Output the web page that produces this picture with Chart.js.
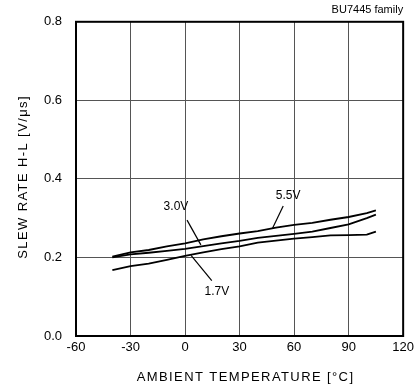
<!DOCTYPE html>
<html><head><meta charset="utf-8">
<script src="https://cdn.jsdelivr.net/npm/chart.js@4.4.0/dist/chart.umd.min.js"></script>
<style>html,body{margin:0;padding:0;background:#fff}#wrap{width:418px;height:385px}</style>
</head><body><div id="wrap"><canvas id="c" width="418" height="385"></canvas></div>
<script>
const temps = [-40,-30,-20,-10,0,10,20,30,40,50,60,70,80,90,100,105];
const v55 = [0.202,0.213,0.219,0.228,0.236,0.246,0.254,0.261,0.267,0.276,0.283,0.288,0.296,0.303,0.313,0.320];
const v30 = [0.200,0.208,0.212,0.217,0.222,0.229,0.236,0.242,0.250,0.255,0.260,0.266,0.275,0.284,0.300,0.309];
const v17 = [0.168,0.178,0.184,0.194,0.204,0.213,0.221,0.228,0.238,0.243,0.248,0.252,0.256,0.257,0.258,0.266];
const xTicks = [-60,-30,0,30,60,90,120];
const yTicks = [0.0,0.2,0.4,0.6,0.8];
const seriesNames = ['5.5V','3.0V','1.7V'];
const xTitle = 'AMBIENT TEMPERATURE [°C]';
const yTitle = 'SLEW RATE H-L [V/μs]';
const chartNote = 'BU7445 family';

const labelDefs = [
  {text:'3.0V', at:[-5,0.328], from:[1.1,0.295], to:[8.7,0.232]},
  {text:'5.5V', at:[56.7,0.358], from:[54,0.331], to:[48,0.273]},
  {text:'1.7V', at:[17.5,0.114], from:[14.7,0.141], to:[3.3,0.205]}
];
const FONT = '"Liberation Sans", Arial, sans-serif';

function pts(vals){ return temps.map((t,i)=>({x:t,y:vals[i]})); }

const annot = {
  id:'annot',
  afterDatasetsDraw(chart){
    const {ctx, chartArea:a, scales:{x,y}} = chart;
    ctx.save();
    ctx.strokeStyle='#000'; ctx.lineWidth=2;
    ctx.strokeRect(a.left, a.top, a.right-a.left, a.bottom-a.top);
    ctx.lineWidth=1.2;
    ctx.font='12px '+FONT; ctx.fillStyle='#000';
    ctx.textAlign='center'; ctx.textBaseline='middle';
    labelDefs.forEach(l=>{
      ctx.beginPath();
      ctx.moveTo(x.getPixelForValue(l.from[0]), y.getPixelForValue(l.from[1]));
      ctx.lineTo(x.getPixelForValue(l.to[0]), y.getPixelForValue(l.to[1]));
      ctx.stroke();
      ctx.fillText(l.text, x.getPixelForValue(l.at[0]), y.getPixelForValue(l.at[1]));
    });
    ctx.textAlign='right'; ctx.textBaseline='middle'; ctx.font='11px '+FONT;
    ctx.fillText(chartNote, a.right, 10);
    // axis titles
    ctx.font='13px '+FONT;
    ctx.letterSpacing='1.4px';
    ctx.textAlign='center'; ctx.textBaseline='middle';
    ctx.fillText(xTitle, (a.left+a.right)/2+6, 377);
    ctx.translate(23, (a.top+a.bottom)/2-2);
    ctx.rotate(-Math.PI/2);
    ctx.fillText(yTitle, 0, 0);
    ctx.restore();
  }
};

new Chart(document.getElementById('c'), {
  type:'line',
  data:{datasets:[
    {label:seriesNames[0], data:pts(v55)},
    {label:seriesNames[1], data:pts(v30)},
    {label:seriesNames[2], data:pts(v17)}
  ].map(d=>Object.assign(d,{borderColor:'#000',borderWidth:1.8,pointRadius:0,tension:0,fill:false}))},
  options:{
    responsive:false, animation:false,
    layout:{padding:{left:0,right:0,top:19,bottom:0}},
    plugins:{legend:{display:false},tooltip:{enabled:false}},
    scales:{
      x:{type:'linear',min:-60,max:120,
        afterBuildTicks(s){s.ticks=xTicks.map(v=>({value:v}));},
        afterFit(s){s.height=49;},
        grid:{color:'#555',lineWidth:1,drawTicks:false},
        border:{display:false},
        ticks:{color:'#000',font:{family:FONT,size:13},padding:4,maxRotation:0}
      },
      y:{type:'linear',min:0,max:0.8,
        afterBuildTicks(s){s.ticks=yTicks.map(v=>({value:v}));},
        afterFit(s){s.width=76;},
        grid:{color:'#555',lineWidth:1,drawTicks:false},
        border:{display:false},
        ticks:{color:'#000',font:{family:FONT,size:13},padding:14,callback:v=>v.toFixed(1)}
      }
    }
  },
  plugins:[annot]
});
</script></body></html>
